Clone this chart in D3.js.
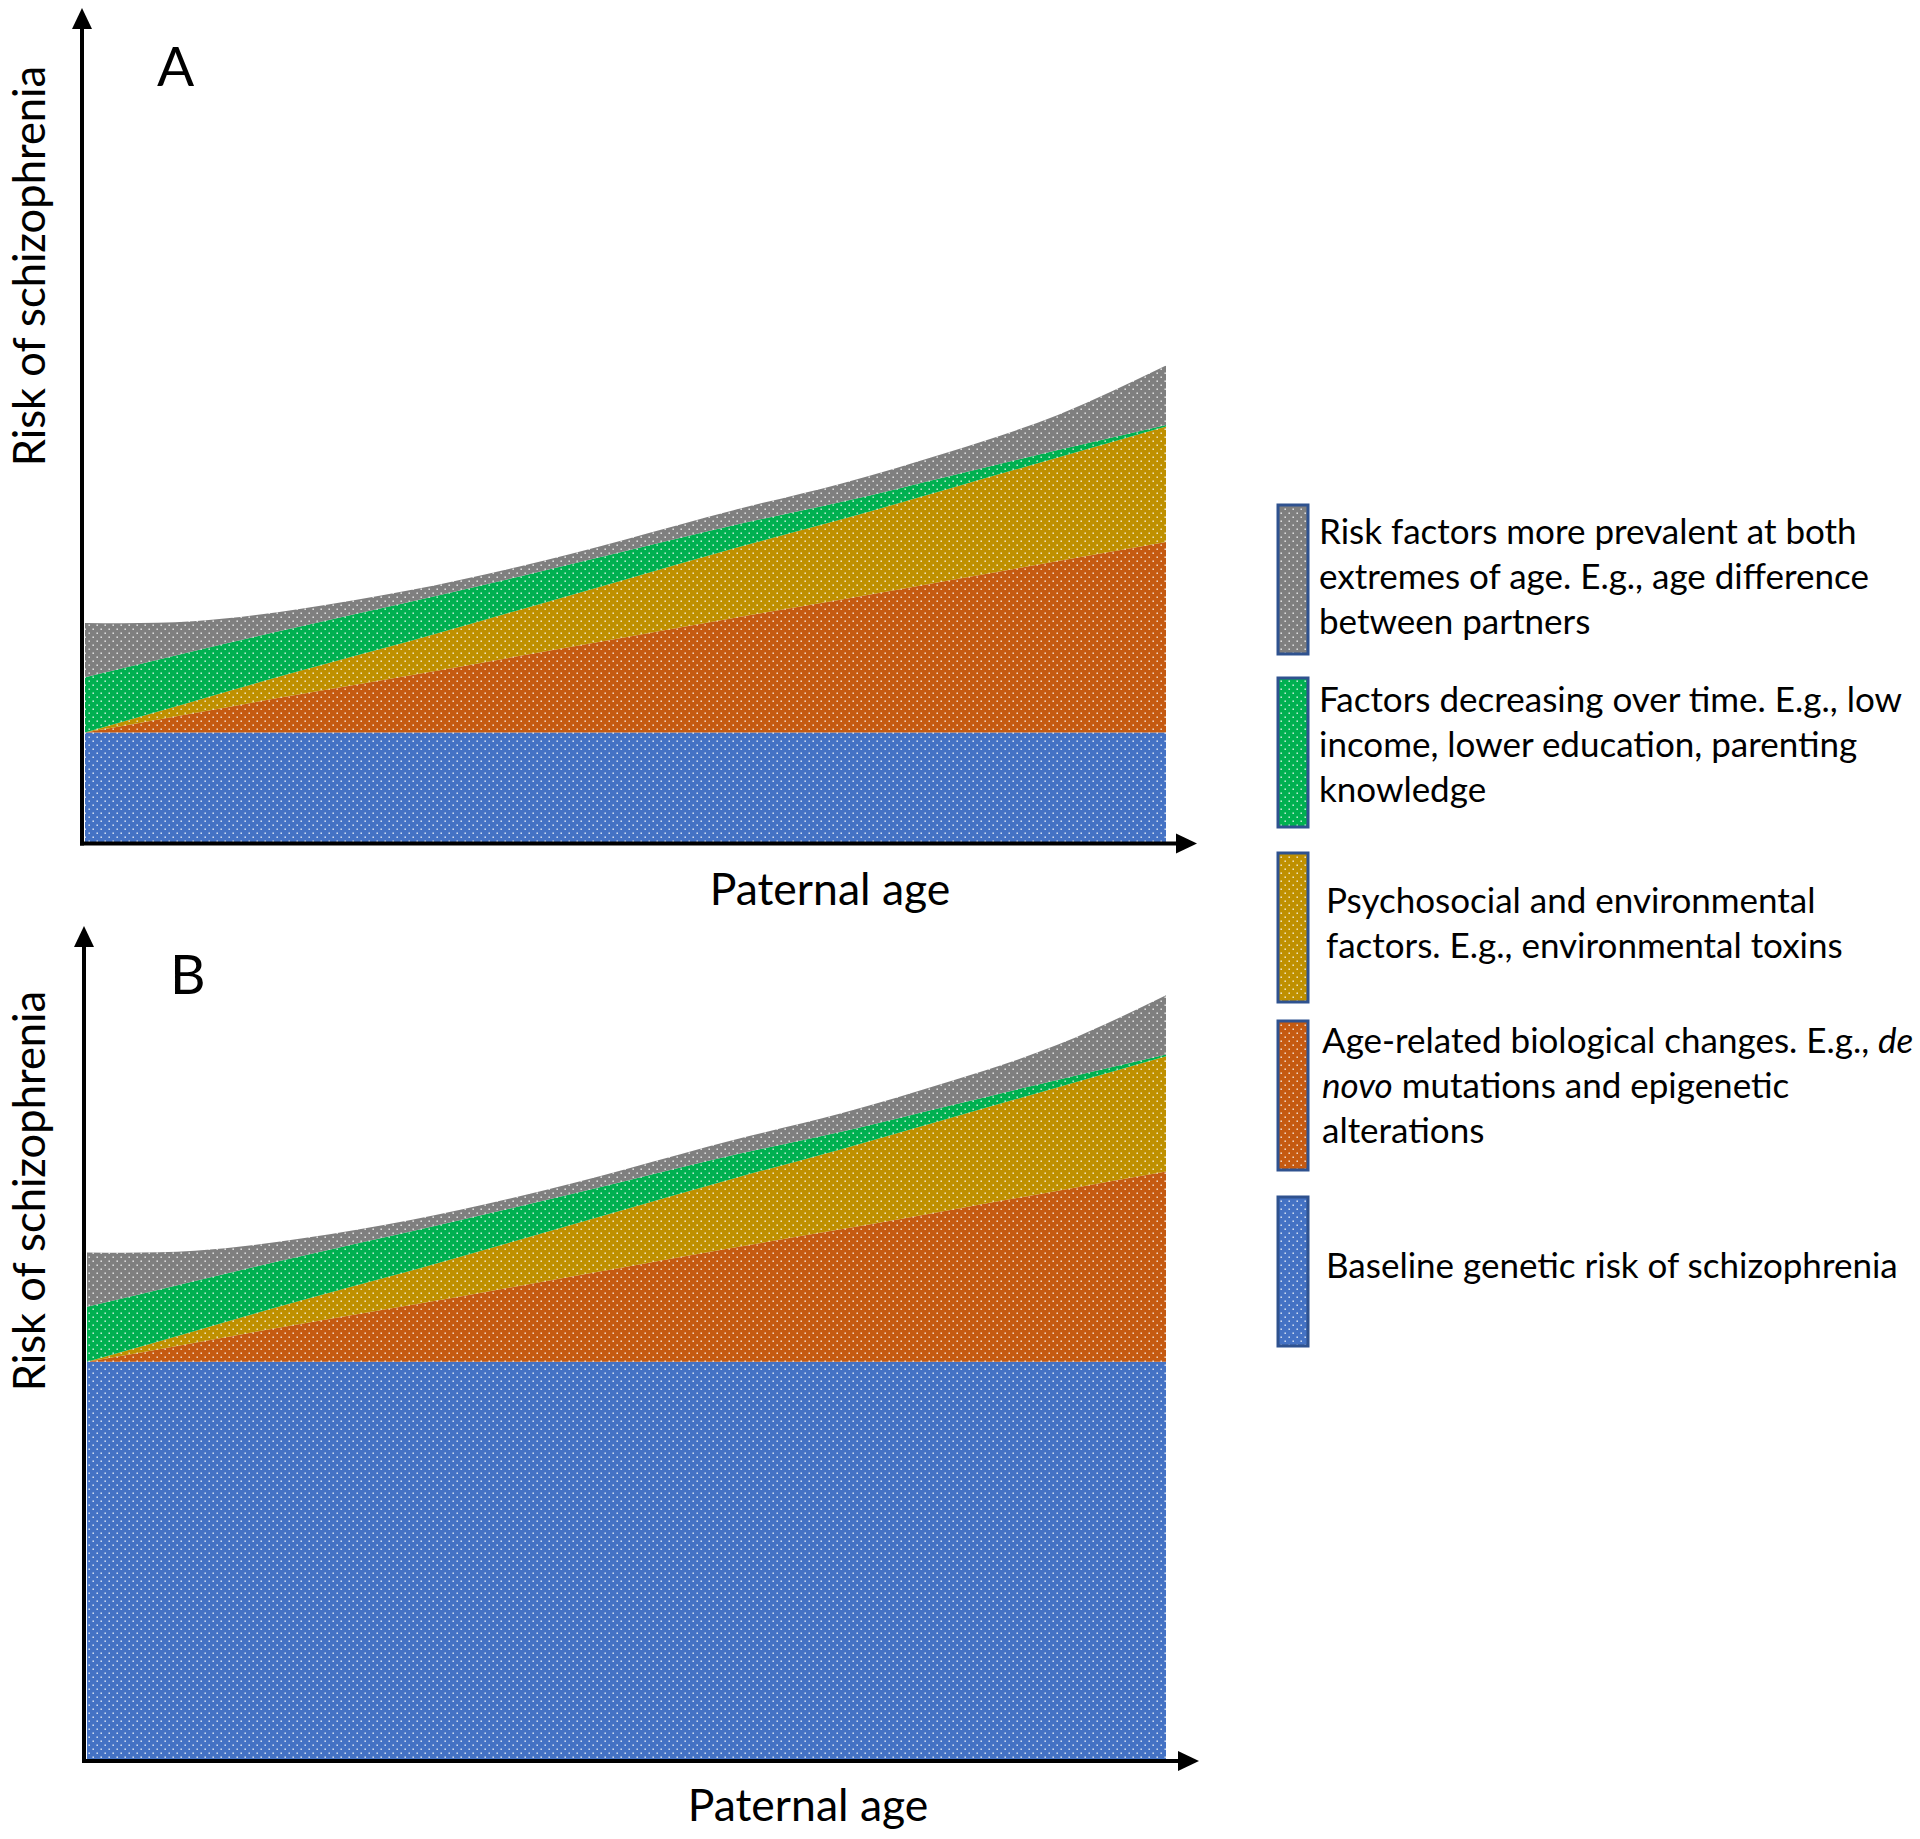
<!DOCTYPE html>
<html>
<head>
<meta charset="utf-8">
<script src="https://cdn.jsdelivr.net/npm/d3@7"></script>
<style>
  body { margin: 0; background: #fff; }
  svg { display: block; font-family: Lato, "Open Sans", sans-serif; }
</style>
</head>
<body>
<div id="chart"></div>
<script>
// paternal age steps (no tick labels in the figure)
const ages = [0, 1, 2, 3, 4, 5, 6, 7, 8, 9, 10];

// stacked risk components (relative units)
const baselineA = [13.3, 13.3, 13.3, 13.3, 13.3, 13.3, 13.3, 13.3, 13.3, 13.3, 13.3];
const baselineB = [47.8, 47.8, 47.8, 47.8, 47.8, 47.8, 47.8, 47.8, 47.8, 47.8, 47.8];
const ageRelated = [0, 2.3, 4.6, 6.8, 9.1, 11.4, 13.7, 15.9, 18.2, 20.5, 22.8];
const psychosocial = [0, 1.4, 2.8, 4.1, 5.5, 6.9, 8.3, 9.6, 11.0, 12.4, 13.8];
const decreasing = [6.6, 6.0, 5.3, 4.7, 4.0, 3.4, 2.8, 2.1, 1.5, 0.9, 0.2];
const extremes = [6.5, 3.6, 2.1, 1.4, 1.2, 1.4, 1.8, 2.2, 2.9, 4.2, 7.1];

const keys = ['baseline', 'ageRelated', 'psychosocial', 'decreasing', 'extremes'];
const colors = {
  baseline: '#4472c4',
  ageRelated: '#c55a11',
  psychosocial: '#bf9000',
  decreasing: '#00b050',
  extremes: '#7f7f7f',
};

// legend, top to bottom (*word* = italic)
const legendKeys = ['extremes', 'decreasing', 'psychosocial', 'ageRelated', 'baseline'];
const legendLabels = [
  ['Risk factors more prevalent at both', 'extremes of age. E.g., age difference', 'between partners'],
  ['Factors decreasing over time. E.g., low', 'income, lower education, parenting', 'knowledge'],
  ['Psychosocial and environmental', 'factors. E.g., environmental toxins'],
  ['Age-related biological changes. E.g., *de*', '*novo* mutations and epigenetic', 'alterations'],
  ['Baseline genetic risk of schizophrenia'],
];

const yLabel = 'Risk of schizophrenia';
const xLabel = 'Paternal age';

const width = 1920;
const height = 1839;

const svg = d3.select('#chart')
  .append('svg')
  .attr('width', width)
  .attr('height', height);

const defs = svg.append('defs');
keys.forEach((k) => {
  const p = defs.append('pattern')
    .attr('id', `dots-${k}`)
    .attr('patternUnits', 'userSpaceOnUse')
    .attr('width', 8)
    .attr('height', 8);
  p.append('rect').attr('width', 8).attr('height', 8).attr('fill', colors[k]);
  p.append('rect').attr('x', 0.5).attr('y', 0.5).attr('width', 1.4).attr('height', 1.4)
    .attr('fill', '#fff').attr('opacity', 0.9);
  p.append('rect').attr('x', 4.5).attr('y', 4.5).attr('width', 1.4).attr('height', 1.4)
    .attr('fill', '#fff').attr('opacity', 0.9);
});

const panels = [
  { letter: 'A', baseline: baselineA, left: 85, right: 1166, axisX: 82, axisY: 843.5, top: 8,
    arrowX: 1197, letterX: 157, letterY: 86, yLabelY: 266, xLabelX: 830, xLabelY: 905 },
  { letter: 'B', baseline: baselineB, left: 87, right: 1166, axisX: 84, axisY: 1761, top: 926,
    arrowX: 1199, letterX: 170, letterY: 994, yLabelY: 1191, xLabelX: 808, xLabelY: 1821 },
];

panels.forEach((p) => {
  const rows = ages.map((a, i) => ({
    age: a,
    baseline: p.baseline[i],
    ageRelated: ageRelated[i],
    psychosocial: psychosocial[i],
    decreasing: decreasing[i],
    extremes: extremes[i],
  }));
  const series = d3.stack().keys(keys)(rows);

  const x = d3.scaleLinear().domain(d3.extent(ages)).range([p.left, p.right]);
  const y = d3.scaleLinear().domain([0, 100]).range([p.axisY, p.top]);

  const area = d3.area()
    .x((d) => x(d.data.age))
    .y0((d) => y(d[0]))
    .y1((d) => y(d[1]))
    .curve(d3.curveNatural);

  const g = svg.append('g');
  g.selectAll('path.layer')
    .data(series)
    .join('path')
    .attr('class', 'layer')
    .attr('fill', (d) => `url(#dots-${d.key})`)
    .attr('d', area);

  // axes with arrow heads
  const ax = g.append('g').attr('fill', '#000').attr('stroke', '#000');
  ax.append('line')
    .attr('x1', p.axisX).attr('y1', p.axisY + 2)
    .attr('x2', p.axisX).attr('y2', y.range()[1] + 16)
    .attr('stroke-width', 4);
  ax.append('path')
    .attr('stroke', 'none')
    .attr('d', `M${p.axisX - 10},${y.range()[1] + 21}L${p.axisX},${y.range()[1]}L${p.axisX + 10},${y.range()[1] + 21}Z`);
  ax.append('line')
    .attr('x1', p.axisX - 2).attr('y1', p.axisY)
    .attr('x2', p.arrowX - 16).attr('y2', p.axisY)
    .attr('stroke-width', 4);
  ax.append('path')
    .attr('stroke', 'none')
    .attr('d', `M${p.arrowX - 21},${p.axisY - 10}L${p.arrowX},${p.axisY}L${p.arrowX - 21},${p.axisY + 10}Z`);

  g.append('text')
    .attr('x', p.letterX)
    .attr('y', p.letterY)
    .attr('font-size', 55)
    .text(p.letter);

  g.append('text')
    .attr('transform', `translate(45,${p.yLabelY}) rotate(-90)`)
    .attr('text-anchor', 'middle')
    .attr('font-size', 43.5)
    .text(yLabel);

  g.append('text')
    .attr('x', p.xLabelX)
    .attr('y', p.xLabelY)
    .attr('text-anchor', 'middle')
    .attr('font-size', 44.5)
    .text(xLabel);
});

// legend
const swatchTops = [505, 678, 853, 1021, 1197];
const textStarts = [
  { x: 1319, y: 544 },
  { x: 1319, y: 712 },
  { x: 1326, y: 913 },
  { x: 1322, y: 1053 },
  { x: 1326, y: 1278 },
];
const legend = svg.append('g');
legendKeys.forEach((k, i) => {
  legend.append('rect')
    .attr('x', 1278)
    .attr('y', swatchTops[i])
    .attr('width', 30)
    .attr('height', 149)
    .attr('fill', `url(#dots-${k})`)
    .attr('stroke', '#2f528f')
    .attr('stroke-width', 3);
  const t = legend.append('text')
    .attr('font-size', 35)
    .attr('fill', '#000');
  legendLabels[i].forEach((line, j) => {
    const parts = line.split(/(\*[^*]+\*)/).filter((s) => s.length);
    parts.forEach((s, n) => {
      const ts = t.append('tspan').text(s.replace(/\*/g, ''));
      if (n === 0) ts.attr('x', textStarts[i].x).attr('y', textStarts[i].y + j * 45);
      if (s.startsWith('*')) ts.attr('font-style', 'italic');
    });
  });
});
</script>
</body>
</html>
